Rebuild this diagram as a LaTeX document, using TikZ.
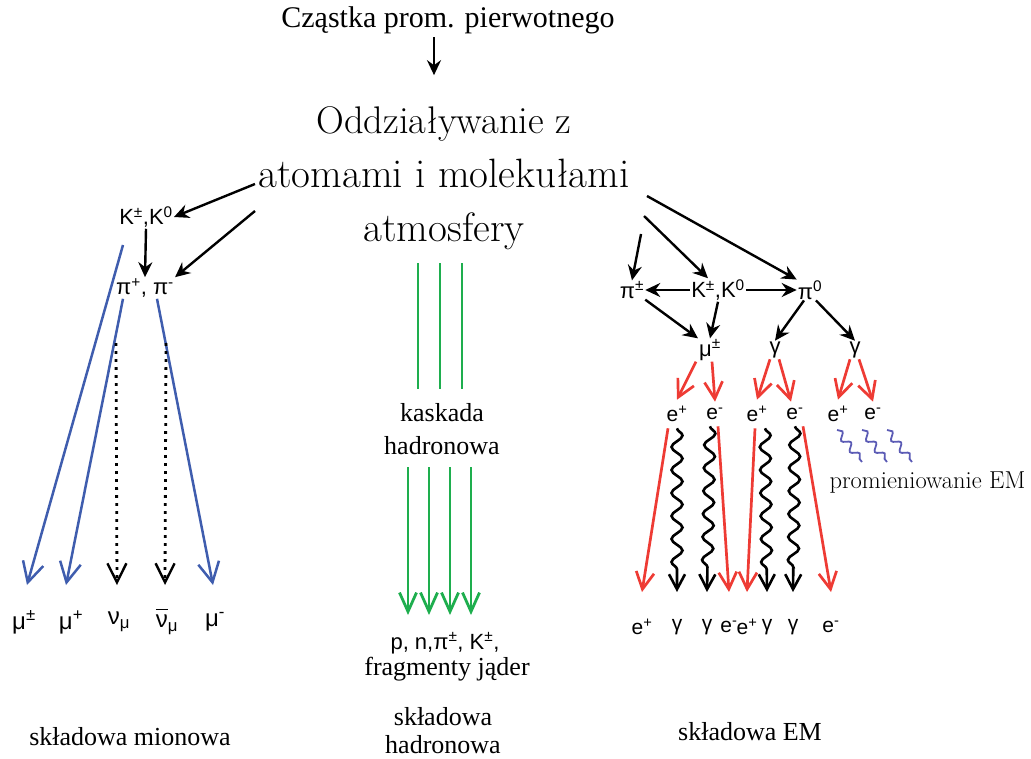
\documentclass[tikz,border=0pt]{standalone}
\usepackage{fontspec}
\newfontfamily\timesf{Liberation Serif}
\newfontfamily\arialf{Liberation Sans}
\usetikzlibrary{arrows.meta,decorations.pathmorphing}
\definecolor{muonblue}{HTML}{3F5DAE}
\definecolor{emred}{HTML}{EE3B34}
\definecolor{hadgreen}{HTML}{1EAE4E}
\definecolor{radblue}{HTML}{5B5BB5}
\newcommand{\nubar}{\makebox[0pt][l]{\raisebox{0.72em}{\rule{0.5em}{1.2pt}}}ν}
\tikzset{
    part/.style={font=\arialf\fontsize{22}{24}\selectfont,inner sep=1pt},
    bpart/.style={part,font=\arialf\fontsize{24}{26}\selectfont},
    epart/.style={part,font=\arialf\fontsize{21}{22}\selectfont,inner ysep=6pt},
    lbl/.style={font=\timesf\fontsize{26}{28}\selectfont,align=center,inner sep=0pt},
    blk/.style={line width=2.4pt,-{Stealth[length=15pt,width=14pt,inset=5pt]}},
    muonarr/.style={muonblue,line width=2.5pt,-{Straight Barb[length=20pt,width=21pt]}},
    nuarr/.style={line width=2.8pt,dash pattern=on 2.8pt off 5.2pt,-{Straight Barb[length=19pt,width=19pt,line width=2.4pt]}},
    emarr/.style={emred,line width=2.7pt,-{Straight Barb[length=17pt,width=18pt]}},
    hadline/.style={hadgreen,line width=2.8pt},
    hadarr/.style={hadline,-{Straight Barb[length=19pt,width=17pt]}},
    photon/.style={line width=2.6pt,decorate,decoration={snake,segment length=23pt,amplitude=5.5pt,post length=14pt},-{Straight Barb[length=15pt,width=16pt]}},
    emrad/.style={radblue,line width=1.8pt,decorate,decoration={snake,segment length=14pt,amplitude=3.5pt}}
}
\begin{document}
\begin{tikzpicture}[x=1pt,y=-1pt]
    \useasboundingbox (0,0) rectangle (1031,758);
    %% Primary particle and first interaction
    \node[font=\timesf\fontsize{30}{32}\selectfont] (prim) at (448,20) {Cząstka prom. pierwotnego};
    \node[align=center,font=\fontsize{41}{54}\selectfont] (inter) at (444,178)
        {{\fontsize{38.5}{54}\selectfont Oddziaływanie z}\\atomami i molekułami\\atmosfery};
    \draw[blk] ([xshift=-14]prim.south) -- ++(0,38);

    %% Muon component
    \node[part] (kl) at (146,217) {K\textsuperscript{±},K\textsuperscript{0}};
    \node[part] (pil) at (145,288) {π\textsuperscript{+}, π\textsuperscript{-}};
    \draw[blk] ([yshift=-6]inter.west) -- (kl.east);
    \draw[blk] ([yshift=-33]inter.west) -- (pil.north east);
    \draw[blk] (kl.south) -- (pil.north);
    \node[bpart] (mua) at (24,622) {μ\textsuperscript{±}};
    \node[bpart] (mub) at (71,622) {μ\textsuperscript{+}};
    \node[bpart] (nua) at (119,622) {ν\textsubscript{μ}};
    \node[bpart] (nub) at (167,622) {\nubar\textsubscript{μ}};
    \node[bpart] (muc) at (215,622) {μ\textsuperscript{-}};
    \coordinate (kmu) at (123,245);
    \draw[muonarr] (kmu) -- (27,585);
    \draw[muonarr] ([xshift=-22]pil.south) -- (66,585);
    \draw[muonarr] ([xshift=12]pil.south) -- (213,585);
    \draw[nuarr] (116,343) -- (117,585);
    \draw[nuarr] (166,343) -- (165,585);

    %% Hadronic component
    \foreach \x in {418,440,462}
        \draw[hadline] (\x,263) -- (\x,389);
    \node[lbl,font=\timesf\fontsize{26}{33}\selectfont] (casc) at (442,429) {kaskada\\hadronowa};
    \foreach \x in {408,429,450,471}
        \draw[hadarr] (\x,467) -- (\x,615);
    \node[part] (hadp) at (445,643) {p, n,π\textsuperscript{±}, K\textsuperscript{±},};
    \node[lbl] (frag) at (447,669) {fragmenty jąder};

    %% Electromagnetic component
    \node[part] (pir) at (632,290) {π\textsuperscript{±}};
    \node[part] (kr) at (718,290) {K\textsuperscript{±},K\textsuperscript{0}};
    \node[part] (pio) at (810,290) {π\textsuperscript{0}};
    \node[part] (mur) at (710,350) {μ\textsuperscript{±}};
    \node[part] (gaa) at (775,350) {γ};
    \node[part] (gab) at (855,350) {γ};
    \draw[blk] ([xshift=8,yshift=-56]inter.east) -- (pir.north);
    \draw[blk] ([xshift=11,yshift=-38]inter.east) -- ([xshift=-10]kr.north);
    \draw[blk] ([xshift=14,yshift=-18]inter.east) -- (pio.north west);
    \draw[blk] (kr) -- (pir);
    \draw[blk] (kr) -- (pio);
    \draw[blk] (pir.south east) -- (mur.north west);
    \draw[blk] (kr.south) -- (mur.north);
    \draw[blk] ([xshift=-6]pio.south) -- (gaa.north);
    \draw[blk] ([xshift=6]pio.south) -- (gab.north);

    \node[epart] (ea) at (677,414) {e\textsuperscript{+}};
    \node[epart] (eb) at (715,414) {e\textsuperscript{-}};
    \node[epart] (ec) at (757,414) {e\textsuperscript{+}};
    \node[epart] (ed) at (795,414) {e\textsuperscript{-}};
    \node[epart] (ee) at (838,414) {e\textsuperscript{+}};
    \node[epart] (ef) at (873,414) {e\textsuperscript{-}};
    \draw[emarr] ([xshift=-14]mur.south) -- (ea.north);
    \draw[emarr] ([xshift=2]mur.south) -- (eb.north);
    \draw[emarr] ([xshift=-5]gaa.south) -- (ec.north);
    \draw[emarr] ([xshift=4]gaa.south) -- ([xshift=-4]ed.north);
    \draw[emarr] ([xshift=-5]gab.south) -- (ee.north);
    \draw[emarr] ([xshift=4]gab.south) -- (ef.north);

    \node[epart] (fa) at (642,627) {e\textsuperscript{+}};
    \node[epart] (fb) at (677,627) {γ};
    \node[epart] (fc) at (707,627) {γ};
    \node[epart] (fd) at (729,627) {e\textsuperscript{-}};
    \node[epart] (fe) at (747,627) {e\textsuperscript{+}};
    \node[epart] (ff) at (767,627) {γ};
    \node[epart] (fg) at (793,627) {γ};
    \node[epart] (fh) at (831,627) {e\textsuperscript{-}};
    \draw[emarr] ([xshift=-9]ea.south) -- (fa |- 0,592);
    \draw[photon] (ea.south) -- (fb |- 0,592);
    \draw[photon] ([xshift=-5]eb.south) -- (fc |- 0,592);
    \draw[emarr] ([xshift=3]eb.south) -- (fd |- 0,592);
    \draw[emarr] ([xshift=-2]ec.south) -- (fe |- 0,592);
    \draw[photon] ([xshift=8]ec.south) -- (ff |- 0,592);
    \draw[photon] (ed.south) -- (fg |- 0,592);
    \draw[emarr] ([xshift=8]ed.south) -- (fh |- 0,592);

    %% EM radiation
    \foreach \x in {837,862,887}
        \draw[emrad] (\x,430) -- ++(25,32);
    \node[anchor=base west,font=\fontsize{24.5}{26}\selectfont] (radtxt) at (826,488) {promieniowanie EM};

    %% Component labels
    \node[lbl] (smu) at (130,737) {składowa mionowa};
    \node[lbl] (shad) at (443,731) {składowa\\hadronowa};
    \node[lbl] (sem) at (750,732) {składowa EM};
\end{tikzpicture}
\end{document}
